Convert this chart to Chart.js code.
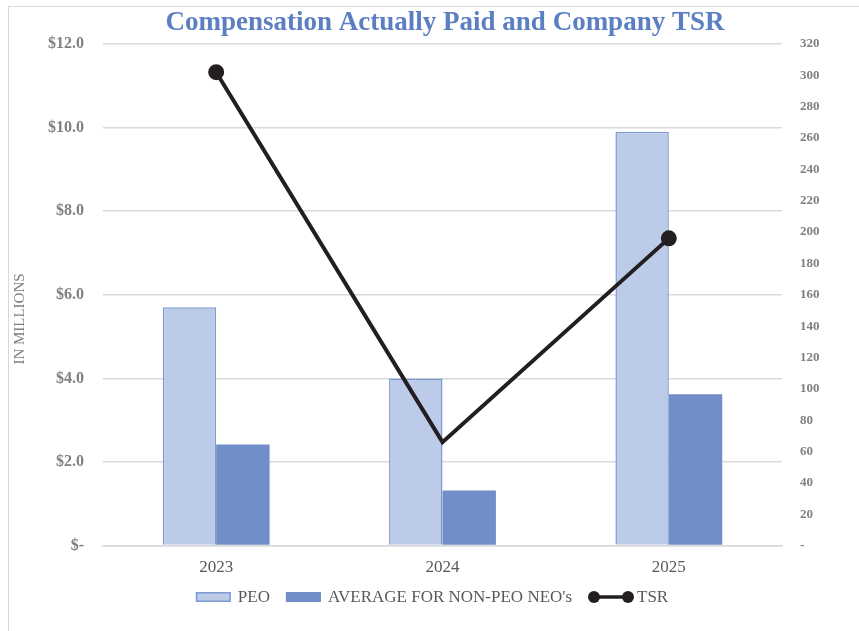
<!DOCTYPE html>
<html>
<head>
<meta charset="utf-8">
<script src="https://cdn.jsdelivr.net/npm/chart.js@4.4.1/dist/chart.umd.min.js"></script>
<style>
  html, body { margin: 0; padding: 0; background: #fff; }
  #frame { position: absolute; left: 8px; top: 6px; width: 900px; height: 700px;
           border-left: 1.5px solid #d9d9d9; border-top: 1.5px solid #d9d9d9; }
  #wrap { position: absolute; left: 0; top: 0; width: 859px; height: 631px; }
</style>
</head>
<body>
<div id="frame"></div>
<div id="wrap"><canvas id="Chart1"></canvas></div>
<script>
const years = ['2023', '2024', '2025'];
const peo = [5.7, 4.0, 9.9];
const nonPeo = [2.42, 1.32, 3.62];
const tsr = [302, 66, 196];
const tsrDots = [6, 0, 6];

const titleText = 'Compensation Actually Paid and Company TSR';
const yTitleText = 'IN MILLIONS';

const serif = "'Liberation Serif', 'Times New Roman', serif";
const peoFill = '#bccbe8';
const peoLine = '#7e9ad2';
const avgFill = '#728ec8';
const tsrColor = '#231f20';

// title, rotated axis title and the legend, placed like the original
const textPlugin = {
    id: 'textPlugin',
    afterDraw(chart) {
        const ctx = chart.ctx;
        ctx.save();
        ctx.textAlign = 'center';
        ctx.textBaseline = 'middle';
        ctx.fillStyle = '#5b7fc2';
        ctx.font = 'bold 27px ' + serif;
        ctx.fillText(titleText, 445, 23);

        ctx.save();
        ctx.translate(20, 319);
        ctx.rotate(-Math.PI / 2);
        ctx.fillStyle = '#808080';
        ctx.font = '15px ' + serif;
        ctx.fillText(yTitleText, 0, 0);
        ctx.restore();

        // legend
        const ds = chart.data.datasets;
        const items = [
            { text: ds[1].label, kind: 'peo', w: 35, gap: 7 },
            { text: ds[2].label, kind: 'avg', w: 35, gap: 7 },
            { text: ds[0].label, kind: 'line', w: 46, gap: 3 }
        ];
        ctx.font = '17px ' + serif;
        ctx.textAlign = 'left';
        let total = 0;
        items.forEach((it, i) => {
            it.tw = ctx.measureText(it.text).width;
            total += it.w + it.gap + it.tw + (i < items.length - 1 ? 16 : 0);
        });
        let x = 432 - total / 2;
        const y = 597;
        items.forEach(it => {
            if (it.kind == 'line') {
                ctx.strokeStyle = tsrColor;
                ctx.lineWidth = 3.5;
                ctx.beginPath(); ctx.moveTo(x + 6, y); ctx.lineTo(x + it.w - 6, y); ctx.stroke();
                ctx.fillStyle = tsrColor;
                for (let cx of [x + 6, x + it.w - 6]) {
                    ctx.beginPath(); ctx.arc(cx, y, 6, 0, Math.PI * 2); ctx.fill();
                }
            } else {
                ctx.fillStyle = it.kind == 'peo' ? peoFill : avgFill;
                ctx.fillRect(x, y - 5, it.w, 10);
                ctx.strokeStyle = it.kind == 'peo' ? peoLine : avgFill;
                ctx.lineWidth = 1.5;
                ctx.strokeRect(x + 0.75, y - 4.25, it.w - 1.5, 8.5);
            }
            x += it.w + it.gap;
            ctx.fillStyle = '#595959';
            ctx.fillText(it.text, x, y + 1);
            x += it.tw + 16;
        });
        ctx.restore();
    }
};

const chartdata = {
    labels: years,
    datasets: [
        {
            type: 'line',
            label: 'TSR',
            data: tsr,
            yAxisID: 'y1',
            borderColor: tsrColor,
            backgroundColor: tsrColor,
            borderWidth: 4,
            pointRadius: tsrDots,
            pointHoverRadius: tsrDots,
            order: 0
        },
        {
            label: 'PEO',
            data: peo,
            yAxisID: 'y',
            backgroundColor: peoFill,
            borderColor: peoLine,
            borderWidth: 1.5,
            order: 1
        },
        {
            label: "AVERAGE FOR NON-PEO NEO's",
            data: nonPeo,
            yAxisID: 'y',
            backgroundColor: avgFill,
            borderColor: avgFill,
            borderWidth: 0,
            order: 1
        }
    ]
};

const config = {
    type: 'bar',
    data: chartdata,
    plugins: [textPlugin],
    options: {
        responsive: true,
        maintainAspectRatio: false,
        animation: false,
        datasets: {
            bar: { categoryPercentage: 0.472, barPercentage: 1.0 }
        },
        layout: { padding: { left: 0, right: 0, top: 44, bottom: 41 } },
        plugins: {
            title: { display: false },
            legend: { display: false },
            tooltip: { enabled: false }
        },
        scales: {
            x: {
                grid: { display: false, drawTicks: false },
                border: { display: true, color: '#d9d9d9', width: 1.5 },
                ticks: { color: '#595959', font: { family: serif, size: 17 }, padding: 12 }
            },
            y: {
                position: 'left',
                min: 0,
                max: 12,
                ticks: {
                    stepSize: 2,
                    color: '#808080',
                    font: { family: serif, size: 16, weight: 'bold' },
                    padding: 19,
                    callback: v => v == 0 ? '$-' : '$' + v.toFixed(1)
                },
                grid: { color: '#d9d9d9', lineWidth: 1.5, drawTicks: false },
                border: { display: false },
                afterFit: function (axis) { axis.width = 103; }
            },
            y1: {
                position: 'right',
                min: 0,
                max: 320,
                ticks: {
                    stepSize: 20,
                    color: '#808080',
                    font: { family: serif, size: 13, weight: 'bold' },
                    padding: 18,
                    callback: v => v == 0 ? '-' : v
                },
                grid: { display: false, drawTicks: false },
                border: { display: false },
                afterFit: function (axis) { axis.width = 77; }
            }
        }
    }
};

const TsrChart = new Chart(document.getElementById('Chart1'), config);
</script>
</body>
</html>
